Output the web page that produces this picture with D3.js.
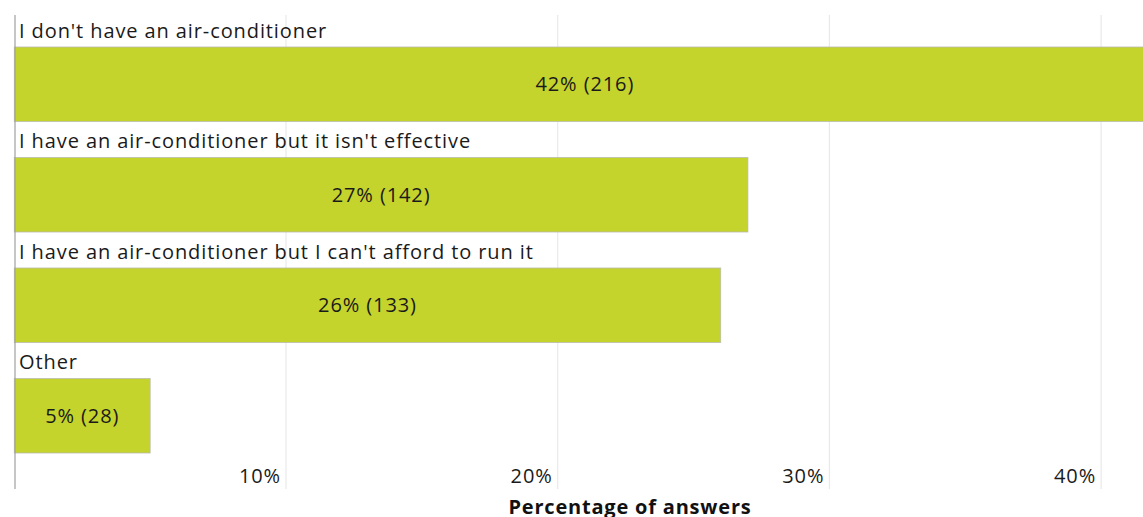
<!DOCTYPE html>
<html>
<head>
<meta charset="utf-8">
<script src="https://cdn.jsdelivr.net/npm/d3@7/dist/d3.min.js"></script>
<style>
  html, body { margin: 0; padding: 0; background: #fff; }
  svg { display: block; }
  text { font-family: "Open Sans", "Noto Sans", sans-serif; }
</style>
</head>
<body>
<svg id="chart" width="1143" height="517"></svg>
<script>
// Survey answers: share of respondents (percent) and raw counts
const categories = [
  "I don't have an air-conditioner",
  "I have an air-conditioner but it isn't effective",
  "I have an air-conditioner but I can't afford to run it",
  "Other"
];
const percentages = [42, 27, 26, 5];
const counts = [216, 142, 133, 28];
const tickValues = [10, 20, 30, 40];
const axisTitle = "Percentage of answers";

const rows = categories.map((c, i) => ({ cat: c, pct: percentages[i], n: counts[i] }));

const svg = d3.select("#chart");
const x0 = 14.3;          // zero line
const plotTop = 15, plotBottom = 489;

const x = d3.scaleLinear().domain([0, 10]).range([x0, x0 + 271.7]);
const y = d3.scaleBand().domain(categories).range([15, 457]);
const barOffset = 32, barH = 74.5;
const fs = 20, ls = 0.9;

// vertical gridlines
svg.append("g")
  .selectAll("line")
  .data(tickValues)
  .join("line")
  .attr("x1", d => x(d)).attr("x2", d => x(d))
  .attr("y1", plotTop).attr("y2", plotBottom)
  .attr("stroke", "#e9e9e9").attr("stroke-width", 1.2);

// bars
svg.append("g")
  .selectAll("rect")
  .data(rows)
  .join("rect")
  .attr("x", x(0))
  .attr("y", d => y(d.cat) + barOffset)
  .attr("width", d => x(d.pct) - x(0))
  .attr("height", barH)
  .attr("fill", "#c5d32d")
  .attr("stroke", "#b9bcae")
  .attr("stroke-width", 0.8);

// category labels above bars
svg.append("g")
  .selectAll("text")
  .data(rows)
  .join("text")
  .attr("x", 19)
  .attr("y", d => y(d.cat) + 22.7)
  .attr("font-size", fs)
  .attr("letter-spacing", ls)
  .attr("fill", "#1a1a1a")
  .text(d => d.cat);

// value labels centred in bars (visible part)
svg.append("g")
  .selectAll("text")
  .data(rows)
  .join("text")
  .attr("x", d => (x(0) + x(d.pct)) / 2)
  .attr("y", d => y(d.cat) + barOffset + barH / 2 + 7)
  .attr("text-anchor", "middle")
  .attr("font-size", fs)
  .attr("letter-spacing", ls)
  .attr("fill", "#1a1a1a")
  .text(d => `${d.pct}% (${d.n})`);

// left axis line
svg.append("line")
  .attr("x1", 15).attr("x2", 15)
  .attr("y1", plotTop).attr("y2", plotBottom)
  .attr("stroke", "#a0a0a0").attr("stroke-width", 1.2);

// x tick labels
svg.append("g")
  .selectAll("text")
  .data(tickValues)
  .join("text")
  .attr("x", d => x(d) - 5)
  .attr("y", 483)
  .attr("text-anchor", "end")
  .attr("font-size", fs)
  .attr("letter-spacing", ls)
  .attr("fill", "#1a1a1a")
  .text(d => d + "%");

// axis title
svg.append("text")
  .attr("x", 630)
  .attr("y", 514)
  .attr("text-anchor", "middle")
  .attr("font-size", fs)
  .attr("letter-spacing", 0.8)
  .attr("font-weight", "bold")
  .attr("fill", "#111")
  .text(axisTitle);
</script>
</body>
</html>
